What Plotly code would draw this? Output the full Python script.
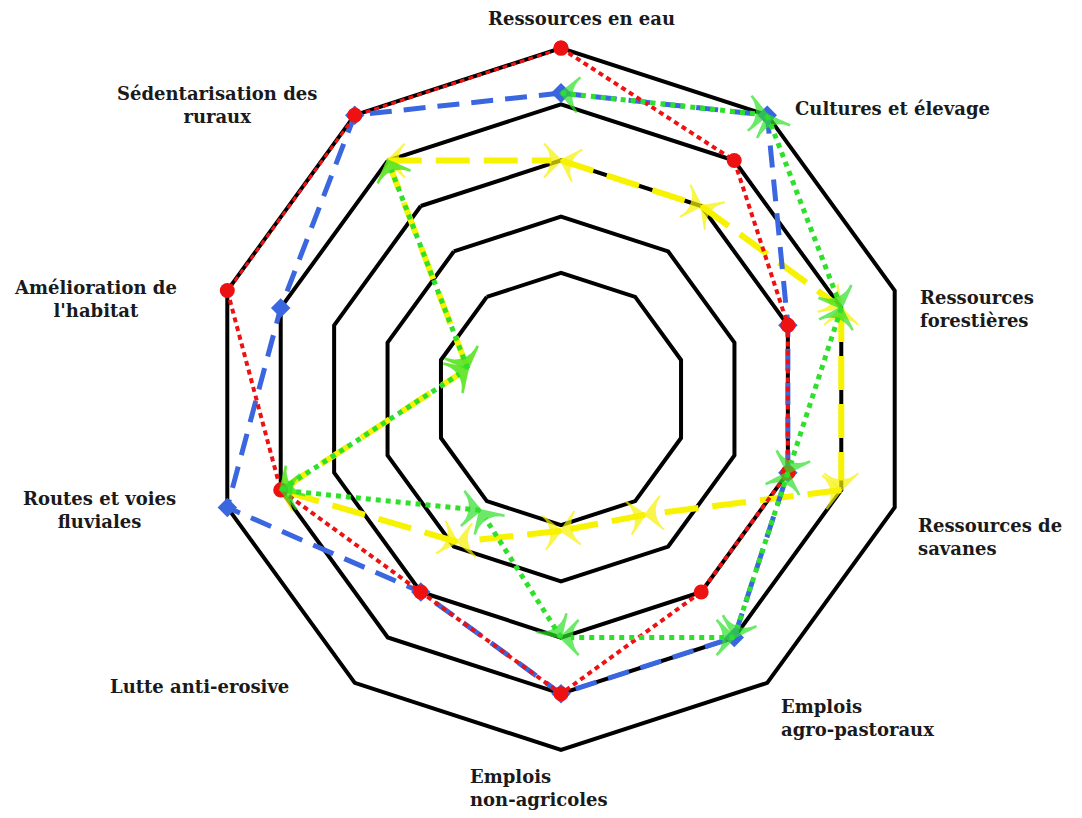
import plotly.graph_objects as go

categories = [
    "Ressources en eau",
    "Cultures et élevage",
    "Ressources forestières",
    "Ressources de savanes",
    "Emplois agro-pastoraux",
    "Emplois non-agricoles",
    "Lutte anti-erosive",
    "Routes et voies fluviales",
    "Amélioration de l'habitat",
    "Sédentarisation des ruraux",
]
label_text = [
    "Ressources en eau",
    "Cultures et élevage",
    "Ressources<br>forestières",
    "Ressources de<br>savanes",
    "Emplois<br>agro-pastoraux",
    "Emplois<br>non-agricoles",
    "Lutte anti-erosive",
    "Routes et voies<br>fluviales",
    "Amélioration de<br>l'habitat",
    "Sédentarisation des<br>ruraux",
]
ring_values = [1, 2, 3, 4, 5]

red_values = [5, 4, 3, 3, 3, 4, 3, 4, 5, 5]
blue_values = [4.2, 5, 3, 3, 4, 4, 3, 5, 4, 5]
green_values = [4.2, 5, 4, 3, 4, 3, 1.2, 4, 0.5, 4]
yellow_values = [3, 3, 4, 4, 1.3, 1.1, 1.9, 4, 0.5, 4]

# label placement (page px): x, y, xanchor, align
label_pos = [
    (581, 18, "center", "center"),
    (793, 108, "left", "left"),
    (918, 309, "left", "left"),
    (916, 537, "left", "left"),
    (779, 718, "left", "left"),
    (468, 788, "left", "left"),
    (108, 686, "left", "left"),
    (99, 510, "center", "center"),
    (95, 299, "center", "center"),
    (217, 105, "center", "center"),
]

W, H = 1082, 818
OFF = 8  # page body margin
CX, CY, R = 561 - OFF, 399 - OFF, 352

fig = go.Figure()


def closed(seq):
    return list(seq) + [seq[0]]


# yellow
ycol = "#f7f200"
fig.add_trace(go.Scatterpolar(
    r=closed(yellow_values), theta=closed(categories), mode="lines+markers",
    line=dict(color=ycol, width=6, dash="34px,14px"),
    marker=dict(symbol="arrow-wide", size=[0] + [24] * 10, color=ycol,
                angleref="previous", line=dict(width=2, color=ycol)),
    showlegend=False, hoverinfo="skip"))
fig.add_trace(go.Scatterpolar(
    r=closed(yellow_values[::-1]), theta=closed(categories[::-1]), mode="markers",
    marker=dict(symbol="arrow-wide", size=[0] + [24] * 10, color=ycol,
                angleref="previous", line=dict(width=2, color=ycol)),
    showlegend=False, hoverinfo="skip"))

# blue
bcol = "#3a66e0"
fig.add_trace(go.Scatterpolar(
    r=closed(blue_values), theta=closed(categories), mode="lines+markers",
    line=dict(color=bcol, width=5, dash="22px,12px"),
    marker=dict(symbol="diamond", size=15, color=bcol),
    showlegend=False, hoverinfo="skip"))

# red
rcol = "#ee1111"
fig.add_trace(go.Scatterpolar(
    r=closed(red_values), theta=closed(categories), mode="lines+markers",
    line=dict(color=rcol, width=4, dash="5px,4px"),
    marker=dict(symbol="circle", size=15, color=rcol),
    showlegend=False, hoverinfo="skip"))

# green (open path)
gcol = "#2ee02a"
fig.add_trace(go.Scatterpolar(
    r=green_values, theta=categories, mode="lines+markers",
    line=dict(color=gcol, width=5, dash="5px,5px"),
    marker=dict(symbol="arrow-wide", size=[0] + [25] * 9, color=gcol,
                angleref="previous", line=dict(width=2.5, color=gcol)),
    showlegend=False, hoverinfo="skip"))
fig.add_trace(go.Scatterpolar(
    r=green_values[::-1], theta=categories[::-1], mode="markers",
    marker=dict(symbol="arrow-wide", size=[0] + [25] * 9, color=gcol,
                angleref="previous", line=dict(width=2.5, color=gcol)),
    showlegend=False, hoverinfo="skip"))

for txt, (px, py, xa, al) in zip(label_text, label_pos):
    fig.add_annotation(
        x=(px - OFF) / W, y=1 - (py - OFF) / H, xref="paper", yref="paper",
        text=txt, showarrow=False, xanchor=xa, yanchor="middle", align=al,
        font=dict(family="DejaVu Serif", size=18, color="#1a1a1a", weight="bold"))

fig.update_layout(
    width=W, height=H,
    margin=dict(l=0, r=0, t=0, b=0),
    paper_bgcolor="white",
    polar=dict(
        domain=dict(x=[(CX - R) / W, (CX + R) / W],
                    y=[1 - (CY + R) / H, 1 - (CY - R) / H]),
        bgcolor="white",
        gridshape="linear",
        hole=0.199,
        radialaxis=dict(range=[0, 5.02], tickvals=ring_values, showticklabels=False,
                        showline=False, ticks="", gridcolor="black", gridwidth=3.5),
        angularaxis=dict(categoryarray=categories, type="category",
                         rotation=90, direction="clockwise",
                         showgrid=False, showticklabels=False, ticks="",
                         showline=False),
    ),
)

fig.write_html("out.html")
